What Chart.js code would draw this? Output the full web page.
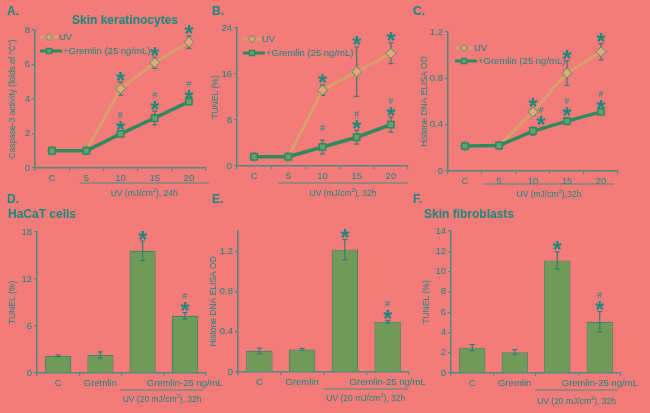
<!DOCTYPE html>
<html>
<head>
<meta charset="utf-8">
<script src="https://cdn.jsdelivr.net/npm/chart.js@4/dist/chart.umd.min.js"></script>
<style>
html, body { margin: 0; padding: 0; background: #F37B79; }
#wrap { position: relative; width: 650px; height: 413px; overflow: hidden; }
#wrap canvas { position: absolute; left: 0; top: 0; }
</style>
</head>
<body>
<div id="wrap">
  <canvas id="cA" width="650" height="413"></canvas>
  <canvas id="cB" width="650" height="413"></canvas>
  <canvas id="cC" width="650" height="413"></canvas>
  <canvas id="cD" width="650" height="413"></canvas>
  <canvas id="cE" width="650" height="413"></canvas>
  <canvas id="cF" width="650" height="413"></canvas>
</div>
<script>
// ---- data ----
var doses = ['C', '5', '10', '15', '20'];
var groups = ['C', 'Gremlin', '', 'Gremlin-25 ng/mL'];

// A. caspase-3, keratinocytes
var caspUV      = [1.0, 1.0, 4.6, 6.1, 7.3];
var caspUVErr   = [0.05, 0.05, 0.38, 0.32, 0.36];
var caspGrem    = [1.0, 1.0, 1.98, 2.9, 3.85];
var caspGremErr = [0.05, 0.05, 0.15, 0.4, 0.06];
var caspUVSig   = ['', '', '*', '*', '*'];
var caspGremSig = ['', '', '#*', '#*', '#*'];

// B. TUNEL, keratinocytes
var tunelUV      = [1.6, 1.6, 13.2, 16.4, 19.6];
var tunelUVErr   = [0.2, 0.2, 0.9, 4.3, 1.8];
var tunelGrem    = [1.6, 1.6, 3.3, 5.0, 7.2];
var tunelGremErr = [0.2, 0.2, 1.2, 1.2, 1.3];
var tunelUVSig   = ['', '', '*', '*', '*'];
var tunelGremSig = ['', '', '# ', '#*', '#*'];

// C. histone DNA ELISA, keratinocytes
var elisaUV      = [0.215, 0.22, 0.51, 0.845, 1.03];
var elisaUVErr   = [0.01, 0.01, 0.03, 0.105, 0.07];
var elisaGrem    = [0.215, 0.22, 0.345, 0.43, 0.51];
var elisaGremErr = [0.01, 0.01, 0.035, 0.03, 0.01];
var elisaUVSig   = ['', '', '*', '*', '*'];
var elisaGremSig = ['', '', '#*', '#*', '#*'];

// D. HaCaT TUNEL
var hacat    = [2.2, 2.3, 15.6, 7.3];
var hacatErr = [0.1, 0.4, 1.25, 0.4];
var hacatSig = ['', '', '*', '#*'];

// E. histone DNA ELISA (bars)
var elisaBar    = [0.21, 0.224, 1.215, 0.5];
var elisaBarErr = [0.028, 0.01, 0.1, 0.012];
var elisaBarSig = ['', '', '*', '#*'];

// F. skin fibroblasts TUNEL
var fibro    = [2.5, 2.05, 11.1, 5.05];
var fibroErr = [0.3, 0.25, 0.85, 1.0];
var fibroSig = ['', '', '*', '#*'];

// ---- styles ----
var FONT = '"Liberation Sans", Arial, sans-serif';
var TEAL = '#17897D';
var AXIS = '#4E8A80';
var UV_COL = '#D9A06C';
var UV_FILL = '#E2A878';
var GR_COL = '#2E8A5C';
var GR_FILL = '#6A9E74';
var BAR_FILL = '#6F9A57';
var BAR_EDGE = '#3C8C6C';
var ERR_COL = '#3E7A6A';

function centered(ctx, str, x, cy) {
    var m = ctx.measureText(str);
    ctx.fillText(str, x, cy + (m.actualBoundingBoxAscent - m.actualBoundingBoxDescent) / 2);
}

// text with a superscript part: parts = [[text, isSup], ...]
function supText(ctx, parts, cx, cy, size) {
    var w = 0;
    parts.forEach(function(p){
        ctx.font = (p[1] ? size * 0.7 : size) + 'px ' + FONT;
        w += ctx.measureText(p[0]).width;
    });
    var x = cx - w / 2;
    ctx.textAlign = 'left';
    ctx.textBaseline = 'alphabetic';
    parts.forEach(function(p){
        ctx.font = (p[1] ? size * 0.7 : size) + 'px ' + FONT;
        ctx.fillText(p[0], x, cy + size * 0.36 - (p[1] ? size * 0.42 : 0));
        x += ctx.measureText(p[0]).width;
    });
}

function drawErrors(chart, o) {
    var ctx = chart.ctx, y = chart.scales.y;
    ctx.save();
    ctx.lineWidth = 1.2;
    o.errors.forEach(function(errs, i){
        var meta = chart.getDatasetMeta(i), ds = chart.data.datasets[i];
        ctx.strokeStyle = o.errColor;
        errs.forEach(function(e, j){
            var x = meta.data[j].x, v = ds.data[j];
            var t = y.getPixelForValue(v + e), b = y.getPixelForValue(v - e);
            ctx.beginPath();
            ctx.moveTo(x, t); ctx.lineTo(x, b);
            ctx.moveTo(x - 2.5, t); ctx.lineTo(x + 2.5, t);
            ctx.moveTo(x - 2.5, b); ctx.lineTo(x + 2.5, b);
            ctx.stroke();
        });
    });
    ctx.restore();
}

function drawSigs(chart, o) {
    var ctx = chart.ctx, y = chart.scales.y;
    ctx.save();
    ctx.fillStyle = TEAL;
    ctx.textAlign = 'center';
    ctx.textBaseline = 'alphabetic';
    o.sigs.forEach(function(arr, i){
        var meta = chart.getDatasetMeta(i), ds = chart.data.datasets[i];
        arr.forEach(function(s, j){
            if (!s) return;
            var shift = (o.sigShift && o.sigShift[i]) ? o.sigShift[i][j] : 0;
            var x = meta.data[j].x + shift;
            var cy = y.getPixelForValue(ds.data[j] + o.errors[i][j]) - 2;
            for (var k = s.length - 1; k >= 0; k--) {
                var c = s[k], h;
                if (c === '*') {
                    h = 10;
                    ctx.font = 'bold 23px ' + FONT;
                    centered(ctx, '*', x, cy - h / 2 + 1);
                } else if (c === '#') {
                    h = 7;
                    ctx.font = '9px ' + FONT;
                    centered(ctx, '#', x, cy - h / 2);
                } else {
                    h = 6;
                }
                cy -= h + 1;
            }
        });
    });
    ctx.restore();
}

function drawDecor(chart, o) {
    var ctx = chart.ctx, a = chart.chartArea, xs = chart.scales.x;
    ctx.save();
    ctx.fillStyle = TEAL;
    ctx.textBaseline = 'middle';
    ctx.textAlign = 'left';
    ctx.font = 'bold 12px ' + FONT;
    ctx.fillText(o.letter, o.letterAt[0], o.letterAt[1]);
    if (o.title) {
        ctx.font = 'bold 12px ' + FONT;
        ctx.textAlign = o.titleAlign;
        ctx.fillText(o.title, o.titleAt[0], o.titleAt[1]);
    }
    // group line + label under the axis
    var x1 = xs.getPixelForValue(o.noteFrom), x2 = a.right + o.noteTo;
    ctx.strokeStyle = AXIS;
    ctx.lineWidth = 1;
    ctx.beginPath();
    ctx.moveTo(x1, a.bottom + o.noteLine);
    ctx.lineTo(x2, a.bottom + o.noteLine);
    ctx.stroke();
    supText(ctx, o.note, (x1 + x2) / 2, a.bottom + o.noteText, 8.5);
    // legend inside the plot
    if (o.legend) {
        o.legend.forEach(function(it, i){
            var ds = chart.data.datasets[i];
            var lx = a.left + it[0], ly = it[1], len = it[2];
            ctx.strokeStyle = ds.borderColor;
            ctx.lineWidth = 3;
            ctx.beginPath(); ctx.moveTo(lx, ly); ctx.lineTo(lx + len, ly); ctx.stroke();
            ctx.fillStyle = ds.pointBackgroundColor;
            ctx.strokeStyle = ds.pointBorderColor;
            ctx.lineWidth = ds.pointBorderWidth;
            Chart.helpers.drawPoint(ctx, {pointStyle: ds.pointStyle, radius: 3.5, borderWidth: ds.pointBorderWidth, rotation: 0}, lx + 9, ly);
            ctx.fillStyle = TEAL;
            ctx.font = '9.5px ' + FONT;
            ctx.textAlign = 'left';
            ctx.textBaseline = 'middle';
            ctx.fillText(ds.label, lx + len + 1, ly);
        });
    }
    ctx.restore();
}

var panelPlugin = {
    id: 'panel',
    beforeDatasetsDraw: function(chart, args, o){ if (o.errBehind) drawErrors(chart, o); },
    afterDatasetsDraw: function(chart, args, o){
        if (!o.errBehind) drawErrors(chart, o);
        drawSigs(chart, o);
        drawDecor(chart, o);
    }
};

// chart area: l, t, r, b and x position of the y title
function axes(f, yMin, yMax, step, yTitle, offsetGrid) {
    var padLeft = f.tx - 5;
    return {
        layout: { padding: { left: padLeft, top: f.t, right: 650 - f.r, bottom: 413 - f.b - 22 } },
        scales: {
            x: {
                offset: true,
                grid: { offset: offsetGrid, drawOnChartArea: false, tickLength: 3, color: AXIS, lineWidth: 1.2 },
                border: { color: AXIS, width: 1.5 },
                ticks: { color: TEAL, font: { family: FONT, size: 9.5 }, padding: 2, autoSkip: false, maxRotation: 0, minRotation: 0 },
                afterFit: function(s){ s.height = 22; }
            },
            y: {
                min: yMin, max: yMax,
                grid: { drawOnChartArea: false, tickLength: 3, color: AXIS, lineWidth: 1.2 },
                border: { color: AXIS, width: 1.5 },
                ticks: { stepSize: step, color: TEAL, font: { family: FONT, size: 9.5 }, padding: 2 },
                afterBuildTicks: function(s){
                    s.ticks = s.ticks.filter(function(t){ return Math.abs(t.value / step - Math.round(t.value / step)) < 1e-6; });
                },
                title: { display: true, text: yTitle, color: TEAL, font: { family: FONT, size: 8.5 }, padding: 0 },
                afterFit: function(s){ s.width = f.l - padLeft; }
            }
        }
    };
}

function lineChart(id, f, yMin, yMax, step, yTitle, uv, uvErr, gr, grErr, uvSig, grSig, panel) {
    var ax = axes(f, yMin, yMax, step, yTitle, true);
    panel.errors = [uvErr, grErr];
    panel.sigs = [uvSig, grSig];
    panel.errBehind = true;
    panel.errColor = ERR_COL;
    return new Chart(document.getElementById(id), {
        type: 'line',
        data: {
            labels: doses,
            datasets: [
                {
                    label: 'UV', data: uv, order: 1,
                    borderColor: UV_COL, borderWidth: 3,
                    pointStyle: 'rectRot', pointRadius: 5,
                    pointBackgroundColor: UV_FILL, pointBorderColor: '#4E9070', pointBorderWidth: 1
                },
                {
                    label: '+Gremlin (25 ng/mL)', data: gr, order: 0,
                    borderColor: GR_COL, borderWidth: 3.5,
                    pointStyle: 'rect', pointRadius: 4.5,
                    pointBackgroundColor: GR_FILL, pointBorderColor: GR_COL, pointBorderWidth: 1.5
                }
            ]
        },
        options: {
            responsive: false, animation: false, events: [],
            layout: ax.layout, scales: ax.scales,
            plugins: { legend: { display: false }, tooltip: { enabled: false }, panel: panel }
        },
        plugins: [panelPlugin]
    });
}

function barChart(id, f, yMin, yMax, step, yTitle, vals, errs, sig, panel) {
    var ax = axes(f, yMin, yMax, step, yTitle, true);
    panel.errors = [errs];
    panel.sigs = [sig];
    panel.errBehind = false;
    panel.errColor = '#2E8070';
    return new Chart(document.getElementById(id), {
        type: 'bar',
        data: {
            labels: groups,
            datasets: [{
                data: vals,
                backgroundColor: BAR_FILL, borderColor: BAR_EDGE, borderWidth: 1.2,
                categoryPercentage: 1, barPercentage: 0.62
            }]
        },
        options: {
            responsive: false, animation: false, events: [],
            layout: ax.layout, scales: ax.scales,
            plugins: { legend: { display: false }, tooltip: { enabled: false }, panel: panel }
        },
        plugins: [panelPlugin]
    });
}

var kerNote  = function(h){ return [['UV (mJ/cm', false], ['2', true], ['), ' + h, false]]; };
var barNote  = [['UV (20 mJ/cm', false], ['2', true], ['), 32h', false]];

lineChart('cA', {l: 35, t: 30, r: 206, b: 168, tx: 13}, 0, 8, 2, 'Caspase-3 activity (folds of "C")',
    caspUV, caspUVErr, caspGrem, caspGremErr, caspUVSig, caspGremSig,
    { letter: 'A.', letterAt: [7, 12], title: 'Skin keratinocytes', titleAlign: 'center', titleAt: [125, 21],
      note: kerNote('24h'), noteFrom: 0.8, noteTo: 3, noteLine: 15, noteText: 25,
      legend: [[5, 37, 18], [5, 51, 22]] });

lineChart('cB', {l: 237, t: 28, r: 408, b: 166, tx: 216}, 0, 24, 8, 'TUNEL (%)',
    tunelUV, tunelUVErr, tunelGrem, tunelGremErr, tunelUVSig, tunelGremSig,
    { letter: 'B.', letterAt: [212, 12],
      note: kerNote('32h'), noteFrom: 0.7, noteTo: 0, noteLine: 17, noteText: 27,
      legend: [[6, 39, 18], [6, 53, 22]] });

lineChart('cC', {l: 448, t: 32, r: 618, b: 171, tx: 425}, 0, 1.2, 0.4, 'Histone DNA ELISA OD',
    elisaUV, elisaUVErr, elisaGrem, elisaGremErr, elisaUVSig, elisaGremSig,
    { letter: 'C.', letterAt: [413, 12], sigShift: [null, [0, 0, 8, 0, 0]],
      note: [['UV (mJ/cm', false], ['2', true], ['),32h', false]], noteFrom: 0.55, noteTo: -4, noteLine: 13, noteText: 23,
      legend: [[7, 48, 18], [7, 61, 22]] });

barChart('cD', {l: 37, t: 232, r: 206, b: 373, tx: 13}, 0, 18, 6, 'TUNEL (%)',
    hacat, hacatErr, hacatSig,
    { letter: 'D.', letterAt: [7, 200], title: 'HaCaT cells', titleAlign: 'left', titleAt: [8, 215],
      note: barNote, noteFrom: 1.47, noteTo: -2, noteLine: 17, noteText: 26 });

barChart('cE', {l: 238, t: 231, r: 409, b: 372, tx: 214}, 0, 1.4, 0.4, 'Histone DNA ELISA OD',
    elisaBar, elisaBarErr, elisaBarSig,
    { letter: 'E.', letterAt: [212, 200],
      note: barNote, noteFrom: 1.5, noteTo: -1, noteLine: 17, noteText: 26 });

barChart('cF', {l: 451, t: 231, r: 621, b: 373, tx: 427}, 0, 14, 2, 'TUNEL (%)',
    fibro, fibroErr, fibroSig,
    { letter: 'F.', letterAt: [413, 200], title: 'Skin fibroblasts', titleAlign: 'left', titleAt: [424, 215],
      note: barNote, noteFrom: 1.48, noteTo: -3, noteLine: 17, noteText: 28 });
</script>
</body>
</html>
